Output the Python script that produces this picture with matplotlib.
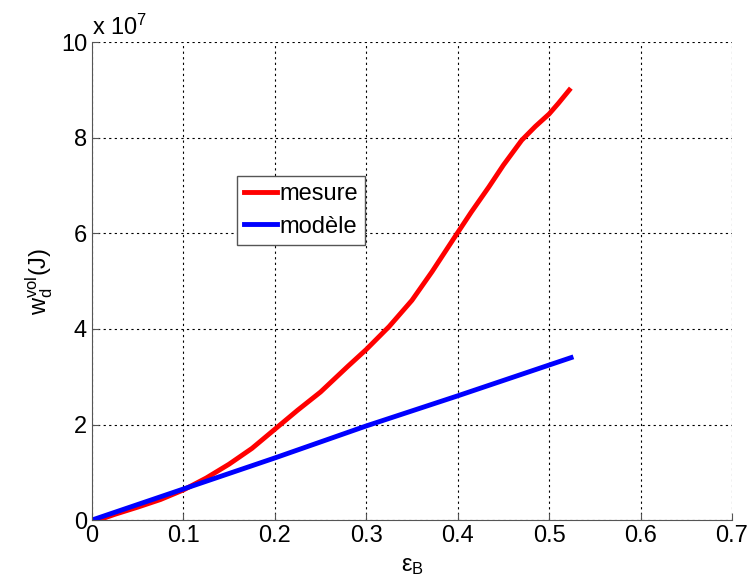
import numpy as np
import matplotlib
matplotlib.use('Agg')
import matplotlib.pyplot as plt

plt.rcParams['font.family'] = ['Liberation Sans', 'DejaVu Sans']
plt.rcParams['mathtext.fontset'] = 'custom'
plt.rcParams['mathtext.rm'] = 'Liberation Sans'
plt.rcParams['mathtext.it'] = 'Liberation Sans'

# donnees (unite : 1e7 J)
eps_mesure = [0.007, 0.025, 0.05, 0.075, 0.1, 0.125, 0.15, 0.175, 0.2, 0.225,
              0.25, 0.265, 0.28, 0.3, 0.325, 0.35, 0.372, 0.397, 0.415, 0.434,
              0.45, 0.47, 0.485, 0.5, 0.51, 0.522]
w_mesure = [0.0, 0.12, 0.27, 0.43, 0.63, 0.88, 1.17, 1.5, 1.9, 2.3,
            2.68, 2.95, 3.22, 3.57, 4.05, 4.6, 5.2, 5.93, 6.45, 6.97,
            7.43, 7.95, 8.24, 8.5, 8.72, 9.0]
eps_modele = [0.0, 0.1, 0.2, 0.3, 0.4, 0.524]
w_modele = [0.0, 0.65, 1.3, 1.97, 2.6, 3.4]

xticks = [0, 0.1, 0.2, 0.3, 0.4, 0.5, 0.6, 0.7]
yticks = [0, 2, 4, 6, 8, 10]

fig = plt.figure(figsize=(7.47, 5.87), dpi=100)
ax = fig.add_axes([0.123, 0.114, 0.857, 0.814])

ax.plot(eps_mesure, w_mesure, color='#ff0000', linewidth=3.5, label='mesure')
ax.plot(eps_modele, w_modele, color='#0000ff', linewidth=3.5, label='modèle')

ax.set_xlim(0, 0.7)
ax.set_ylim(0, 10)
ax.set_xticks(xticks)
ax.set_xticklabels(['0', '0.1', '0.2', '0.3', '0.4', '0.5', '0.6', '0.7'])
ax.set_yticks(yticks)
ax.set_yticklabels([str(v) for v in yticks])
ax.tick_params(direction='in', labelsize=17, length=5, color='#555555')
ax.grid(True, color='black', linestyle=(0, (2, 3)), linewidth=0.8)
ax.spines['top'].set_visible(False)
ax.spines['right'].set_visible(False)
for s in ['left', 'bottom']:
    ax.spines[s].set_color('#555555')

ax.set_xlabel(r'$\mathrm{ε_B}$', fontsize=17, labelpad=6)
ax.set_ylabel(r'$\mathrm{w_d^{vol}(J)}$', fontsize=17, labelpad=4)
ax.text(0.0, 1.005, r'x 10$^7$', transform=ax.transAxes, fontsize=17,
        ha='left', va='bottom')

leg = ax.legend(loc='upper left', bbox_to_anchor=(0.227, 0.72), fontsize=17,
                handlelength=1.4, handletextpad=0.1, borderpad=0.3,
                labelspacing=0.45, borderaxespad=0, fancybox=False,
                framealpha=1)
leg.get_frame().set_edgecolor('#555555')
leg.get_frame().set_linewidth(1.0)

fig.savefig('out.png', dpi=100)
